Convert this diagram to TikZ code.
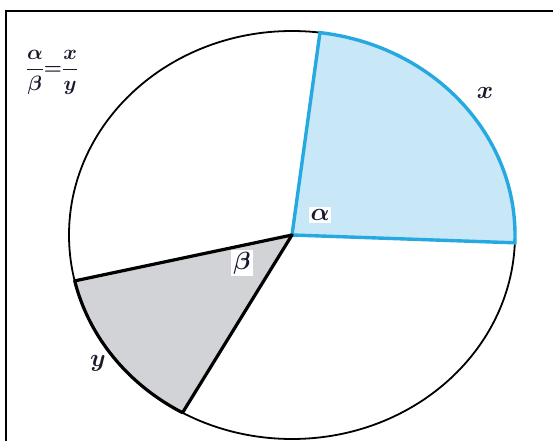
\documentclass[tikz,border=0pt]{standalone}
\usepackage{amsmath}
\usepackage{bm}
\usetikzlibrary{positioning, calc}
\definecolor{arcblue}{RGB}{38, 168, 224}
\definecolor{arcfill}{RGB}{200, 232, 248}
\definecolor{sectgray}{RGB}{210, 211, 214}
\definecolor{labelink}{RGB}{25, 25, 45}

\begin{document}
\begin{tikzpicture}[
    x=1pt, y=1pt,
    rim/.style={draw=black, line width=1.8pt},
    bluesect/.style={draw=arcblue, fill=arcfill, line width=3.4pt, line join=miter},
    graysect/.style={draw=black, fill=sectgray, line width=3.2pt, line join=round},
    anglabel/.style={fill=white, inner sep=2pt, text=labelink, font=\fontsize{23}{27}\selectfont},
    arclabel/.style={inner sep=0pt, text=labelink, font=\fontsize{23}{27}\selectfont}
]
\useasboundingbox (0,0) rectangle (553,441);
\draw[line width=2pt] (6,0) -- (6,430) -- (553,430);

\coordinate (c) at (292,206);
\draw[rim] (c) ellipse [x radius=223, y radius=204];

\draw[bluesect] (c) -- ($(c)+(82.8:223 and 204)$) arc[start angle=82.8, end angle=-2.2, x radius=223, y radius=204] -- cycle;
\draw[graysect] (c) -- ($(c)+(193:223 and 204)$) arc[start angle=193, end angle=240.6, x radius=223, y radius=204] -- cycle;

\node[anglabel] (alpha) at (320,226) {$\bm{\alpha}$};
\node[anglabel] (beta) at (242,178) {$\bm{\beta}$};
\node[arclabel] (xlab) at (485,348) {$\bm{x}$};
\node[arclabel] (ylab) at (98,78) {$\bm{y}$};
\node[text=labelink, font=\fontsize{22}{26}\selectfont] (ratio) at (52,369) {$\boldsymbol{\dfrac{\alpha}{\beta}{=}\dfrac{x}{y}}$};
\end{tikzpicture}
\end{document}
